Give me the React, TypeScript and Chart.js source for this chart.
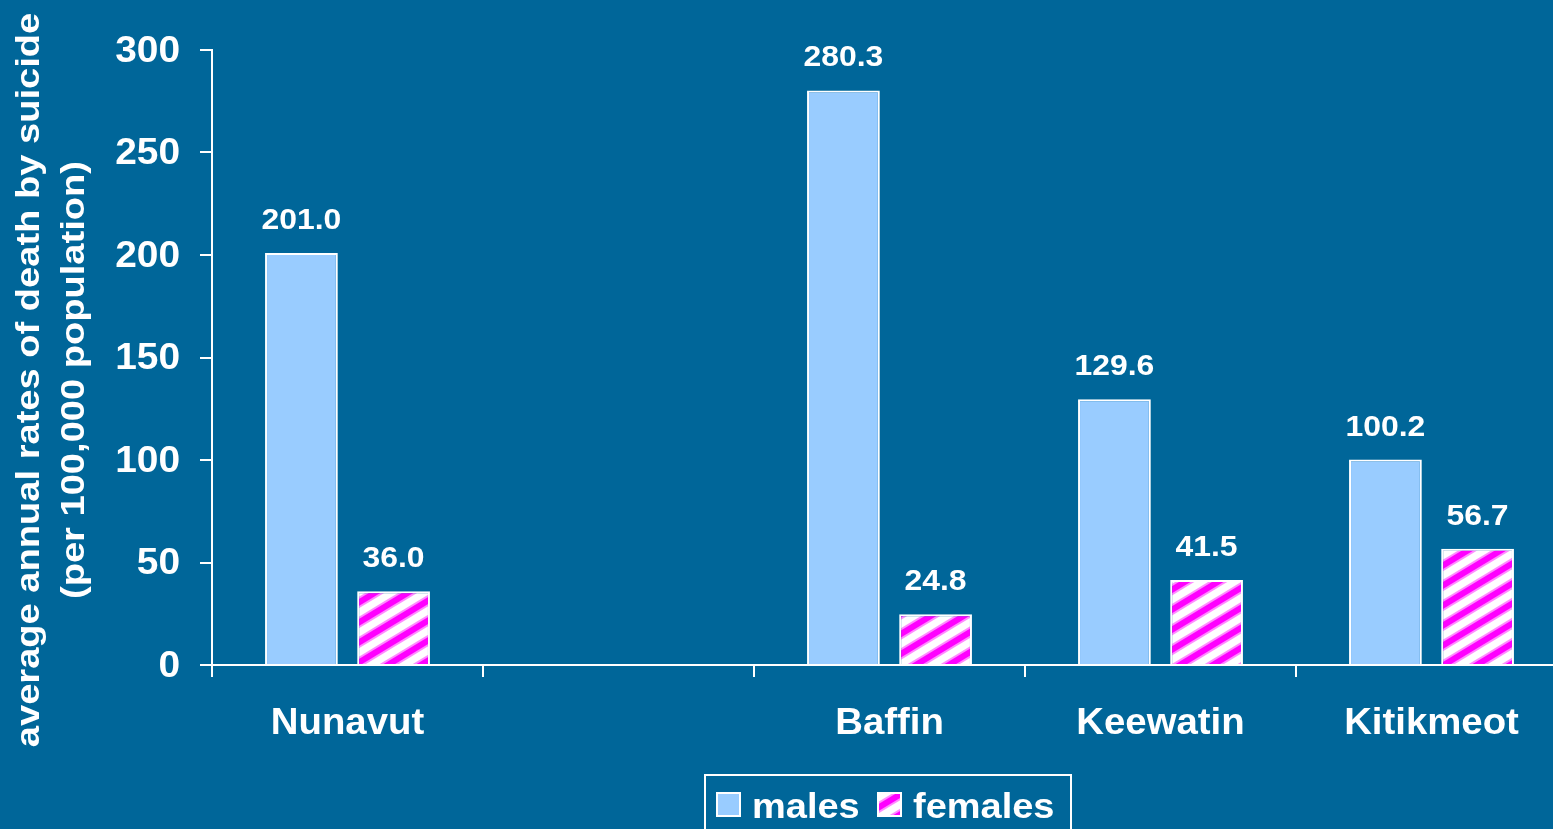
import React, { useEffect, useRef } from "react";
import { Chart, registerables } from "chart.js";

Chart.register(...registerables);

const categories = ["Nunavut", "", "Baffin", "Keewatin", "Kitikmeot"];
const males = [201.0, null, 280.3, 129.6, 100.2];
const females = [36.0, null, 24.8, 41.5, 56.7];
const yTicks = [0, 50, 100, 150, 200, 250, 300];
const yTitle = ["average annual rates of death by suicide", "(per 100,000 population)"];
const legendLabels = ["males", "females"];

const BG = "#006699";
const MALE = "#99CCFF";
const FONT = "'Liberation Sans', Arial, sans-serif";
const CLEAR = "rgba(0,0,0,0)";

function makePattern(): CanvasPattern | string {
  const c = document.createElement("canvas");
  const w = 33;
  const h = 20;
  c.width = w;
  c.height = h;
  const g = c.getContext("2d");
  if (!g) return "#FF00FF";
  g.fillStyle = "#ffffff";
  g.fillRect(0, 0, w, h);
  const draw = (lw: number, col: string) => {
    g.strokeStyle = col;
    g.lineWidth = lw;
    for (const dk of [-h, 0, h]) {
      g.beginPath();
      g.moveTo(-w, 2 * h + dk);
      g.lineTo(2 * w, dk - h);
      g.stroke();
    }
  };
  draw(10, "rgba(255,0,255,0.45)");
  draw(6, "#FF00FF");
  const ctx = document.createElement("canvas").getContext("2d");
  return ctx ? (ctx.createPattern(c, "repeat") as CanvasPattern) : "#FF00FF";
}

function stretchText(
  ctx: CanvasRenderingContext2D,
  text: string,
  x: number,
  y: number,
  sx: number,
  align: CanvasTextAlign,
  baseline: CanvasTextBaseline
) {
  ctx.save();
  ctx.translate(x, y);
  ctx.scale(sx, 1);
  ctx.textAlign = align;
  ctx.textBaseline = baseline;
  ctx.fillText(text, 0, 0);
  ctx.restore();
}

export default function App() {
  const ref = useRef<HTMLCanvasElement>(null);
  useEffect(() => {
    if (!ref.current) return;
    const pattern = makePattern();

    const labelPlugin = {
      id: "valueLabels",
      afterDatasetsDraw(chart: any) {
        const ctx = chart.ctx;
        ctx.save();
        ctx.fillStyle = "#ffffff";
        ctx.font = `bold 29px ${FONT}`;
        chart.data.datasets.forEach((ds: any, di: number) => {
          const meta = chart.getDatasetMeta(di);
          meta.data.forEach((el: any, i: number) => {
            const v = ds.data[i];
            if (v == null) return;
            stretchText(ctx, v.toFixed(1), el.x, el.y - 32, 1.1, "center", "middle");
          });
        });
        ctx.restore();
      },
    };

    const decorPlugin = {
      id: "decor",
      afterDraw(chart: any) {
        const ctx = chart.ctx;
        ctx.save();
        ctx.fillStyle = "#ffffff";
        // y tick labels
        ctx.font = `bold 36px ${FONT}`;
        const ys = chart.scales.y;
        yTicks.forEach((v) => {
          stretchText(ctx, String(v), 180, ys.getPixelForValue(v) + 2, 1.08, "right", "middle");
        });
        // x labels
        const xs = chart.scales.x;
        categories.forEach((c, i) => {
          if (!c) return;
          stretchText(ctx, c, xs.getPixelForTick(i), 724, 1.065, "center", "middle");
        });
        // y title
        ctx.font = `bold 34px ${FONT}`;
        const tx0 = [30, 75];
        yTitle.forEach((t, i) => {
          ctx.save();
          ctx.translate(tx0[i], 380);
          ctx.rotate(-Math.PI / 2);
          stretchText(ctx, t, 0, 0, 1.12, "center", "middle");
          ctx.restore();
        });
        // legend
        ctx.strokeStyle = "#ffffff";
        ctx.lineWidth = 2;
        ctx.strokeRect(705, 775, 366, 70);
        ctx.font = `bold 35px ${FONT}`;
        const sw = [717, 878];
        const tx = [752, 913];
        const fills = [MALE, pattern];
        legendLabels.forEach((l, i) => {
          ctx.fillStyle = fills[i] as any;
          ctx.fillRect(sw[i], 793, 23, 23);
          ctx.strokeStyle = "#ffffff";
          ctx.lineWidth = 2;
          ctx.strokeRect(sw[i], 793, 23, 23);
          ctx.fillStyle = "#ffffff";
          stretchText(ctx, l, tx[i], 818, 1.085, "left", "alphabetic");
        });
        ctx.restore();
      },
    };

    const chart = new Chart(ref.current, {
      type: "bar",
      data: {
        labels: categories,
        datasets: [
          {
            label: legendLabels[0],
            data: males as any,
            backgroundColor: MALE,
            borderColor: "#ffffff",
            borderWidth: 2,
            categoryPercentage: 0.68,
            barPercentage: 0.79,
          },
          {
            label: legendLabels[1],
            data: females as any,
            backgroundColor: pattern as any,
            borderColor: "#ffffff",
            borderWidth: 2,
            categoryPercentage: 0.68,
            barPercentage: 0.79,
          },
        ],
      },
      options: {
        responsive: false,
        animation: false,
        devicePixelRatio: 1,
        layout: { padding: { top: 50, right: 33, left: 0, bottom: 0 } },
        plugins: { legend: { display: false }, tooltip: { enabled: false } },
        scales: {
          x: {
            grid: {
              display: true,
              drawOnChartArea: false,
              drawTicks: true,
              tickLength: 12,
              color: "#ffffff",
              lineWidth: 2,
              offset: true,
            },
            border: { display: true, color: "#ffffff", width: 2 },
            ticks: {
              color: CLEAR,
              font: { family: FONT, size: 36, weight: "bold" },
              padding: 26,
              maxRotation: 0,
              autoSkip: false,
            },
            afterFit: (s: any) => {
              s.height = 164;
            },
          },
          y: {
            min: 0,
            max: 300,
            afterBuildTicks: (s: any) => {
              s.ticks = yTicks.map((v) => ({ value: v }));
            },
            grid: {
              display: true,
              drawOnChartArea: false,
              drawTicks: true,
              tickLength: 12,
              color: "#ffffff",
              lineWidth: 2,
            },
            border: { display: true, color: "#ffffff", width: 2 },
            ticks: {
              color: CLEAR,
              font: { family: FONT, size: 36, weight: "bold" },
              padding: 20,
            },
            afterFit: (s: any) => {
              s.width = 212;
            },
          },
        },
      },
      plugins: [labelPlugin, decorPlugin],
    });
    return () => chart.destroy();
  }, []);

  return (
    <div
      style={{
        position: "fixed",
        left: 0,
        top: 0,
        width: 1553,
        height: 829,
        overflow: "hidden",
        background: BG,
      }}
    >
      <canvas ref={ref} width={1600} height={829} style={{ display: "block" }} />
    </div>
  );
}
